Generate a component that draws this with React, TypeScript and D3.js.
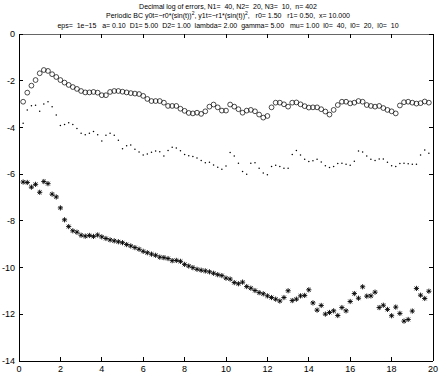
import React from "react";
import * as d3 from "d3";

const TITLE1 = "Decimal log of errors, N1=  40, N2=  20, N3=  10,  n= 402";
const TITLE2A = "Periodic BC y0t=\u2212r0*(sin(t))";
const TITLE2B = ", y1t=\u2212r1*(sin(t))";
const TITLE2C = ",   r0= 1.50   r1= 0.50,  x= 10.000";
const TITLE3 = "eps=  1e\u221215   a= 0.10  D1= 5.00  D2= 1.00  lambda= 2.00  gamma= 5.00   mu= 1.00  l0=  40,  l0=  20,  l0=  10";

const xTicks = [0, 2, 4, 6, 8, 10, 12, 14, 16, 18, 20];
const yTicks = [0, -2, -4, -6, -8, -10, -12, -14];

const STEP = 0.2;

const circleSeries = [
  -2.89, -2.50, -2.20, -1.96, -1.67, -1.53, -1.57, -1.71, -1.83, -1.96,
  -2.07, -2.17, -2.26, -2.34, -2.43, -2.49, -2.49, -2.47, -2.50, -2.61,
  -2.61, -2.47, -2.43, -2.43, -2.46, -2.49, -2.52, -2.54, -2.56, -2.64,
  -2.77, -2.86, -2.86, -2.86, -2.93, -3.07, -3.07, -3.07, -3.19, -3.28,
  -3.37, -3.39, -3.36, -3.41, -3.30, -3.10, -3.01, -3.13, -3.27, -3.27,
  -3.01, -3.10, -3.21, -3.36, -3.27, -3.24, -3.30, -3.44, -3.57, -3.50,
  -3.13, -2.93, -2.93, -3.00, -3.10, -2.93, -2.92, -3.00, -3.08, -3.14,
  -3.13, -3.13, -3.21, -3.31, -3.44, -3.24, -3.03, -2.89, -2.89, -2.96,
  -2.93, -2.86, -2.89, -3.03, -3.07, -3.10, -3.07, -3.16, -3.24, -3.30,
  -3.39, -3.05, -2.91, -2.89, -2.93, -2.97, -2.95, -2.88, -2.93,
];

const dotSeries = [
  -3.81, -3.24, -3.06, -3.04, -3.30, -2.99, -2.89, -3.11, -3.46, -3.91,
  -3.86, -3.79, -3.87, -4.04, -4.24, -4.30, -4.24, -4.17, -4.30, -4.57,
  -4.33, -4.24, -4.33, -4.54, -4.90, -4.78, -4.74, -4.93, -5.04, -5.17,
  -5.13, -5.05, -5.00, -5.03, -5.22, -4.98, -4.84, -4.87, -4.99, -5.15,
  -5.20, -5.24, -5.30, -5.41, -5.50, -5.48, -5.60, -5.70, -5.78, -5.64,
  -5.07, -5.21, -5.53, -5.88, -6.00, -5.53, -5.50, -5.74, -5.94, -6.02,
  -5.67, -5.61, -5.67, -5.74, -5.74, -5.15, -4.98, -5.17, -5.35, -5.45,
  -5.42, -5.35, -5.47, -5.63, -5.71, -5.67, -5.54, -5.53, -5.57, -5.61,
  -5.44, -5.00, -5.04, -5.21, -5.35, -5.41, -5.34, -5.34, -5.48, -5.63,
  -5.67, -5.54, -5.53, -5.55, -5.57, -5.57, -5.17, -4.96, -5.10,
];

const starSeries = [
  -6.33, -6.35, -6.55, -6.43, -6.77, -6.31, -6.40, -6.85, -6.97, -7.44,
  -7.95, -8.24, -8.42, -8.48, -8.61, -8.65, -8.62, -8.66, -8.60, -8.68,
  -8.75, -8.81, -8.85, -8.89, -8.93, -9.01, -9.07, -9.14, -9.21, -9.30,
  -9.36, -9.42, -9.47, -9.55, -9.57, -9.61, -9.70, -9.69, -9.73, -9.86,
  -9.93, -10.00, -10.07, -10.11, -10.14, -10.18, -10.24, -10.30, -10.34, -10.45,
  -10.49, -10.64, -10.69, -10.62, -10.81, -10.88, -10.98, -11.07, -11.12, -11.21,
  -11.28, -11.35, -11.43, -11.28, -10.99, -11.41, -11.35, -11.21, -11.19, -10.95,
  -11.51, -11.82, -11.62, -11.99, -11.92, -11.85, -12.05, -11.71, -11.85, -11.45,
  -11.11, -11.31, -10.82, -11.22, -11.21, -11.05, -11.71, -11.61, -11.79, -12.06,
  -11.69, -11.96, -12.29, -12.22, -11.86, -10.89, -11.18, -11.32, -11.01,
];

const W = 443;
const H = 374;
const FONT = "'Liberation Sans', Arial, Helvetica, sans-serif";

export default function App() {
  const x = d3.scaleLinear().domain([0, 20]).range([19, 433]);
  const y = d3.scaleLinear().domain([-14, 0]).range([361, 34.3]);
  const xv = (i: number) => (i + 1) * STEP;
  const L = x(0), R = x(20), T = y(0), B = y(-14);
  const tick = 4;
  const s = 2.6;
  const cx0 = 228;

  return (
    <svg width={W} height={H} style={{ position: "absolute", left: 0, top: 0, background: "#fff" }}>
      <rect x={0} y={0} width={W} height={H} fill="#fff" />
      {/* title */}
      <g fontFamily={FONT} fontSize={7} fill="#000" textAnchor="middle" style={{ whiteSpace: "pre" }}>
        <text x={cx0} y={8.5} xmlSpace="preserve">{TITLE1}</text>
        <text x={cx0} y={18} xmlSpace="preserve">
          {TITLE2A}
          <tspan fontSize={5} dy={-3}>2</tspan>
          <tspan dy={3}>{TITLE2B}</tspan>
          <tspan fontSize={5} dy={-3}>2</tspan>
          <tspan dy={3}>{TITLE2C}</tspan>
        </text>
        <text x={cx0} y={27.5} xmlSpace="preserve">{TITLE3}</text>
      </g>
      {/* axes box */}
      <g stroke="#000" strokeWidth={1} fill="none" shapeRendering="crispEdges">
        <line x1={L} x2={R} y1={T} y2={T} stroke="#666" />
        <line x1={L} x2={R} y1={B} y2={B} />
        <line x1={L} x2={L} y1={T} y2={B} />
        <line x1={R} x2={R} y1={T} y2={B} />
        {xTicks.map((t) => (
          <g key={"xt" + t}>
            <line x1={x(t)} x2={x(t)} y1={B} y2={B - tick} />
            <line x1={x(t)} x2={x(t)} y1={T} y2={T + tick} />
          </g>
        ))}
        {yTicks.map((t) => (
          <g key={"yt" + t}>
            <line x1={L} x2={L + tick} y1={y(t)} y2={y(t)} />
            <line x1={R} x2={R - tick} y1={y(t)} y2={y(t)} />
          </g>
        ))}
      </g>
      {/* tick labels */}
      <g fontFamily={FONT} fontSize={9} fill="#000">
        {xTicks.map((t) => (
          <text key={"xl" + t} x={x(t)} y={B + 11} textAnchor="middle">{String(t)}</text>
        ))}
        {yTicks.map((t) => (
          <text key={"yl" + t} x={L - 4} y={y(t) + 3} textAnchor="end">{String(t)}</text>
        ))}
      </g>
      {/* circles */}
      <g fill="none" stroke="#000" strokeWidth={0.7}>
        {circleSeries.map((v, i) => (
          <circle key={"c" + i} cx={x(xv(i))} cy={y(v)} r={2.4} />
        ))}
      </g>
      {/* dots */}
      <g fill="#000">
        {dotSeries.map((v, i) => (
          <circle key={"d" + i} cx={x(xv(i))} cy={y(v)} r={0.75} />
        ))}
      </g>
      {/* stars */}
      <g stroke="#000" strokeWidth={0.9}>
        {starSeries.map((v, i) => {
          const cx = x(xv(i));
          const cy = y(v);
          const d = s * 0.72;
          return (
            <g key={"s" + i}>
              <line x1={cx - s} x2={cx + s} y1={cy} y2={cy} />
              <line x1={cx} x2={cx} y1={cy - s} y2={cy + s} />
              <line x1={cx - d} x2={cx + d} y1={cy - d} y2={cy + d} />
              <line x1={cx - d} x2={cx + d} y1={cy + d} y2={cy - d} />
            </g>
          );
        })}
      </g>
    </svg>
  );
}
